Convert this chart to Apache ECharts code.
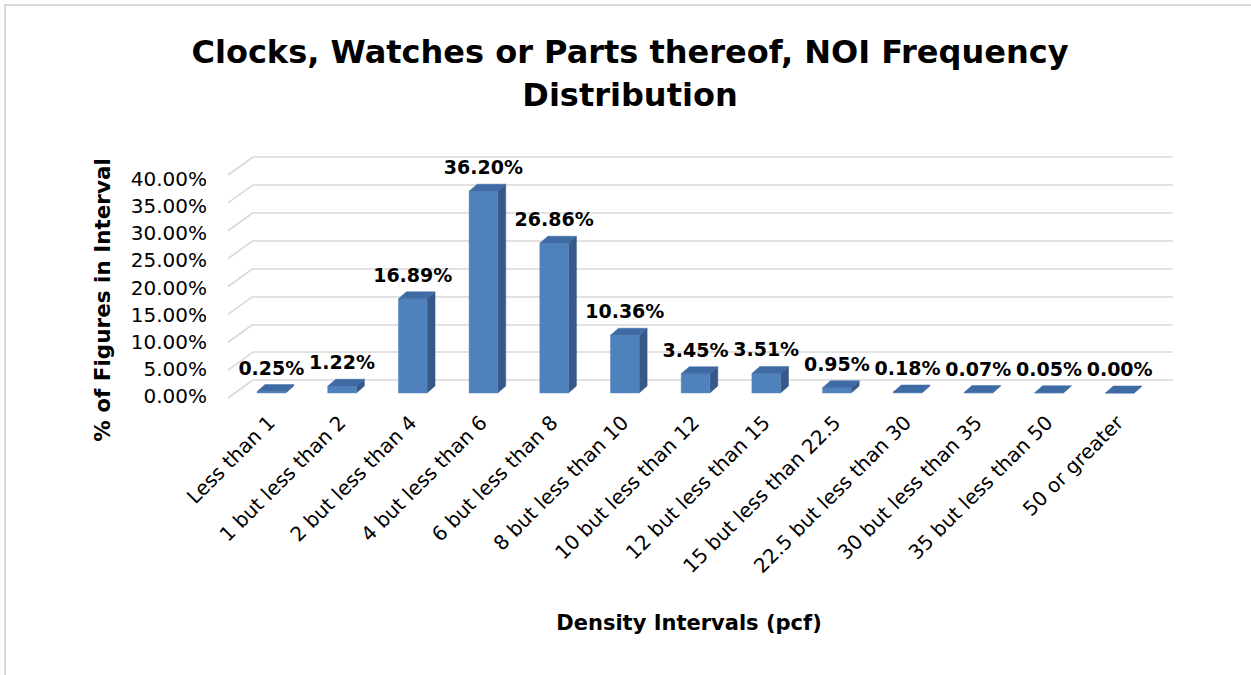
<!DOCTYPE html>
<html>
<head>
<meta charset="utf-8">
<script src="https://cdn.jsdelivr.net/npm/echarts@6/dist/echarts.min.js"></script>
<style>
html,body{margin:0;padding:0;background:#fff;}
#chart{width:1251px;height:675px;}
</style>
</head>
<body>
<div id="chart"></div>
<script>
const categories = ['Less than 1','1 but less than 2','2 but less than 4','4 but less than 6','6 but less than 8','8 but less than 10','10 but less than 12','12 but less than 15','15 but less than 22.5','22.5 but less than 30','30 but less than 35','35 but less than 50','50 or greater'];
const values = [0.25, 1.22, 16.89, 36.20, 26.86, 10.36, 3.45, 3.51, 0.95, 0.18, 0.07, 0.05, 0.00];
const yTicks = [0, 5, 10, 15, 20, 25, 30, 35, 40];
const titleText = 'Clocks, Watches or Parts thereof, NOI Frequency\nDistribution';
const xTitle = 'Density Intervals (pcf)';
const yTitle = '% of Figures in Interval';

const FONT = "'DejaVu Sans', sans-serif";
const DEPTH_X = 8, DEPTH_Y = -7;      // bar depth offsets
const WALL_X = -25, WALL_Y = 18;      // back wall -> front plane

const chart = echarts.init(document.getElementById('chart'), null, {renderer: 'svg'});

const option = {
  backgroundColor: '#ffffff',
  animation: false,
  graphic: [
    {type: 'rect', shape: {x: 5, y: 5, width: 1300, height: 720}, style: {fill: 'none', stroke: '#d9d9d9', lineWidth: 2}, silent: true, z: -10},
    {type: 'text', x: 630, y: 73, style: {text: titleText, font: 'bold 32px ' + FONT, fill: '#000', textAlign: 'center', textVerticalAlign: 'middle', lineHeight: 43}},
    {type: 'text', x: 689, y: 623, style: {text: xTitle, font: 'bold 21px ' + FONT, fill: '#000', textAlign: 'center', textVerticalAlign: 'middle'}},
    {type: 'text', x: 102, y: 300, rotation: Math.PI / 2, style: {text: yTitle, font: 'bold 21.5px ' + FONT, fill: '#000', textAlign: 'center', textVerticalAlign: 'middle'}}
  ],
  grid: [
    {left: 253, top: 157, width: 920, height: 223},   // back wall
    {left: 236, top: 170, width: 919, height: 223},   // bar plane
    {left: 228, top: 179, width: 919, height: 217}    // front plane (labels)
  ],
  xAxis: [
    {gridIndex: 0, type: 'value', min: 0, max: 1, show: false},
    {gridIndex: 1, type: 'category', data: categories, boundaryGap: true,
      axisLine: {show: false}, axisTick: {show: false},
      axisLabel: {interval: 0, rotate: 45, margin: 26, color: '#000', fontFamily: FONT, fontSize: 20}},
    {gridIndex: 2, type: 'value', min: 0, max: 1, show: false}
  ],
  yAxis: [
    {gridIndex: 0, type: 'value', min: 0, max: 40, interval: 5,
      axisLine: {show: false}, axisTick: {show: false}, axisLabel: {show: false},
      splitLine: {show: true, lineStyle: {color: '#d9d9d9', width: 1.6}}},
    {gridIndex: 1, type: 'value', min: 0, max: 40, interval: 5, show: false},
    {gridIndex: 2, type: 'value', min: 0, max: 40, interval: 5,
      axisLine: {show: false}, axisTick: {show: false}, splitLine: {show: false},
      axisLabel: {margin: 21, color: '#000', fontFamily: FONT, fontSize: 20,
        formatter: v => v.toFixed(2) + '%'}}
  ],
  series: [
    {
      type: 'custom', xAxisIndex: 0, yAxisIndex: 0, silent: true, z: 1,
      data: yTicks.map(v => [0, v]),
      renderItem: function (params, api) {
        const p = api.coord([0, api.value(1)]);
        return {type: 'line', shape: {x1: p[0], y1: p[1], x2: p[0] + WALL_X, y2: p[1] + WALL_Y},
          style: {stroke: '#d9d9d9', lineWidth: 1.6}};
      }
    },
    {
      type: 'custom', xAxisIndex: 1, yAxisIndex: 1, z: 5,
      data: values.map((v, i) => [i, v]),
      renderItem: function (params, api) {
        const idx = api.value(0), val = api.value(1);
        const top = api.coord([idx, val]);
        const base = api.coord([idx, 0]);
        const w = api.size([1, 0])[0] * 0.405;
        const x0 = top[0] - w / 2, x1 = top[0] + w / 2;
        const yt = top[1], yb = base[1];
        return {
          type: 'group',
          children: [
            {type: 'polygon', shape: {points: [[x1, yt], [x1 + DEPTH_X, yt + DEPTH_Y], [x1 + DEPTH_X, yb + DEPTH_Y], [x1, yb]]},
              style: {fill: '#36598a', stroke: '#36598a', lineWidth: 0.5}},
            {type: 'rect', shape: {x: x0, y: yt, width: w, height: yb - yt},
              style: {fill: '#4f81bd', stroke: '#5b8ac2', lineWidth: 0.5}},
            {type: 'polygon', shape: {points: [[x0, yt], [x1, yt], [x1 + DEPTH_X, yt + DEPTH_Y], [x0 + DEPTH_X, yt + DEPTH_Y]]},
              style: {fill: '#3e6ba4', stroke: '#3e6ba4', lineWidth: 0.5}},
            {type: 'text', x: top[0], y: yt - 24,
              style: {text: val.toFixed(2) + '%', font: 'bold 19px ' + FONT, fill: '#000', textAlign: 'center', textVerticalAlign: 'middle'}}
          ]
        };
      }
    }
  ]
};
chart.setOption(option);
</script>
</body>
</html>
